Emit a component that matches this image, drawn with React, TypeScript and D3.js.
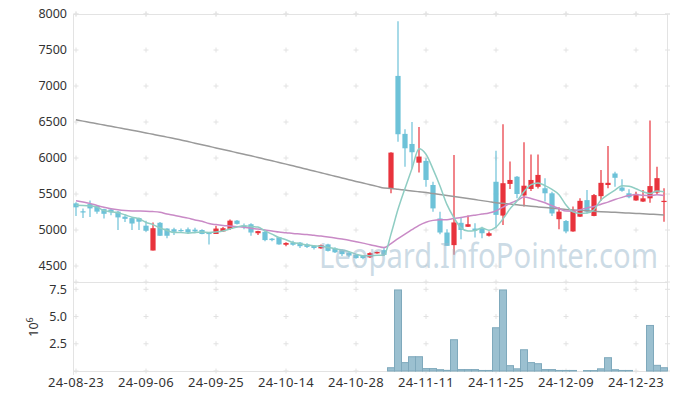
import React from "react";
import * as d3 from "d3";

const dates = [
  "24-08-23","24-08-26","24-08-27","24-08-28","24-08-29","24-08-30",
  "24-09-02","24-09-03","24-09-04","24-09-05","24-09-06",
  "24-09-09","24-09-10","24-09-11","24-09-12","24-09-13",
  "24-09-19","24-09-20","24-09-23","24-09-24","24-09-25","24-09-26","24-09-27","24-09-30",
  "24-10-02","24-10-04","24-10-07","24-10-08","24-10-10","24-10-11",
  "24-10-14","24-10-15","24-10-16","24-10-17","24-10-18",
  "24-10-21","24-10-22","24-10-23","24-10-24","24-10-25",
  "24-10-28","24-10-29","24-10-30","24-10-31","24-11-01",
  "24-11-04","24-11-05","24-11-06","24-11-07","24-11-08",
  "24-11-11","24-11-12","24-11-13","24-11-14","24-11-15",
  "24-11-18","24-11-19","24-11-20","24-11-21","24-11-22",
  "24-11-25","24-11-26","24-11-27","24-11-28","24-11-29",
  "24-12-02","24-12-03","24-12-04","24-12-05","24-12-06",
  "24-12-09","24-12-10","24-12-11","24-12-12","24-12-13",
  "24-12-16","24-12-17","24-12-18","24-12-19","24-12-20",
  "24-12-23","24-12-24","24-12-26","24-12-27","24-12-30",
];

const opens = [
  5370,5260,5360,5335,5290,5285,5255,5185,5165,5165,5060,4715,5100,5020,5010,5000,
  5010,5005,5000,4960,4945,4980,5015,5130,5060,5080,4955,4975,4880,4900,4795,4825,
  4825,4800,4780,4745,4800,4745,4720,4685,4655,4640,4620,4675,4720,5570,7140,6335,
  6195,5935,5960,5625,5160,4965,4790,5100,5045,5020,5020,4920,5670,5200,5640,5740,
  5480,5570,5600,5580,5510,5150,5125,4980,5185,5415,5195,5470,5625,5785,5590,5510,
  5410,5395,5440,5520,5390,
];
const highs = [
  5385,5300,5410,5345,5295,5290,5265,5205,5170,5175,5130,5105,5110,5025,5030,5020,
  5035,5030,5010,4965,5060,5040,5145,5140,5090,5095,4990,4985,4890,4905,4830,4850,
  4835,4815,4790,4800,4810,4760,4730,4700,4665,4650,4690,4700,4760,6080,7900,6400,
  6500,6430,5995,5670,5255,5010,6040,5175,5200,5095,5045,4980,6100,6470,5950,5750,
  6220,6050,6050,5720,5530,5315,5140,5325,5440,5555,5500,5835,6165,5810,5705,5565,
  5530,5555,6520,5880,5580,
];
const lows = [
  5195,5165,5180,5225,5160,5205,5000,5110,5000,5000,4975,4715,4915,4885,4930,4975,
  4945,4955,4940,4800,4945,4975,5000,5075,5010,4920,4930,4845,4845,4795,4775,4780,
  4750,4750,4730,4740,4700,4680,4640,4620,4600,4595,4610,4670,4640,5510,6225,5880,
  5855,5800,5600,5255,4940,4780,4655,4870,5040,4895,4885,4910,5025,5070,5570,5440,
  5325,5540,5575,5395,5195,5010,4955,4975,5180,5230,5190,5405,5580,5600,5530,5440,
  5405,5390,5380,5485,5115,
];
const closes = [
  5315,5250,5300,5255,5225,5245,5175,5155,5090,5115,4990,5025,4920,4920,4975,4990,
  4965,4980,4945,4955,5020,5025,5130,5085,5040,4965,4985,4860,4860,4800,4820,4795,
  4775,4765,4750,4790,4710,4690,4665,4645,4610,4610,4680,4695,4655,6075,6330,6135,
  6080,6020,5695,5300,4965,4780,5105,5000,5080,5000,4955,4955,5210,5650,5695,5500,
  5615,5695,5765,5510,5230,5255,4980,5280,5405,5255,5485,5655,5655,5725,5545,5455,
  5485,5440,5610,5720,5405,
];
// volume, in millions of shares
const volumes = [
  0,0,0,0,0,0,0,0,0,0,0,0,0,0,0,0,0,0,0,0,0,0,0,0,0,0,0,0,0,0,0,0,0,0,0,0,0,0,0,0,0,0,0,0,0,
  0.3,7.44,0.77,1.31,1.31,0.22,0.22,0.12,0.06,2.87,0.13,0.13,0.13,0.05,0.05,
  3.97,7.44,0.49,0.2,1.95,0.77,0.67,0.13,0.13,0.05,0.05,0.05,0,0.04,0.04,
  0.2,1.22,0.12,0.05,0.05,0,0,4.18,0.52,0.3,
];
// moving-average values before enough candles exist in view
const ma5Head = [5345, 5342, 5335, 5320];
const ma20Head = [5407,5390,5370,5340,5315,5295,5280,5270,5265,5264,5262,5256,5245,5222,5205,5185,5165,5140,5122];
// long moving average
const maLong = [
  6530,6512,6494,6476,6458,6440,6422,6404,6386,6367,6348,6329,6310,6290,6270,6250,
  6228,6206,6184,6162,6140,6118,6096,6074,6052,6030,6007,5984,5961,5938,5915,5891,
  5867,5843,5819,5795,5771,5747,5723,5699,5675,5652,5629,5606,5583,5578,5566,5554,
  5542,5531,5520,5506,5492,5478,5464,5450,5436,5422,5408,5394,5380,5370,5360,5350,
  5340,5330,5321,5312,5303,5294,5285,5279,5273,5267,5261,5255,5250,5245,5240,5235,
  5230,5225,5220,5215,5210,
];
const priceTicks = [4500, 5000, 5500, 6000, 6500, 7000, 7500, 8000];
const volTicks = [2.5, 5.0, 7.5];
const volTickLabels = ["2.5", "5.0", "7.5"];
const xTickIdx = [0, 10, 20, 30, 40, 50, 60, 70, 80];

function movingAvg(n: number, head: number[]) {
  return closes.map((_, i) => {
    if (i < n - 1) return head[i];
    const s = d3.sum(closes.slice(i - n + 1, i + 1));
    return s / n;
  });
}

const ma5 = movingAvg(5, ma5Head);
const ma20 = movingAvg(20, ma20Head);

const W = 677, H = 400;
const L = 73, R = 667, TOP = 14, SPLIT = 282, BOT = 371;
const FONT = "'Noto Sans', 'Open Sans', sans-serif";
const UP = "#e8333c", DOWN = "#6dc2d8";

export default function App() {
  const x = d3.scaleLinear().domain([0, 84]).range([76, 664]);
  const y = d3.scaleLinear().domain([4500, 8000]).range([266, 14]);
  const yv = d3.scaleLinear().domain([0, 7.5]).range([BOT, 289.3]);

  const line = (vals: number[]) =>
    d3.line<number>().x((_, i) => x(i)).y((v) => y(v)).curve(d3.curveMonotoneX)(vals) || "";

  const crossX = [...xTickIdx.map((i) => x(i))];
  const crossY = [...priceTicks.map((p) => y(p)), ...volTicks.map((v) => yv(v)), TOP, SPLIT, BOT];

  const cross = (cx: number, cy: number, k: string) => (
    <g key={k} stroke="#e2e2e2" strokeWidth={1}>
      <line x1={cx - 2.5} x2={cx + 2.5} y1={cy} y2={cy} />
      <line x1={cx} x2={cx} y1={cy - 2.5} y2={cy + 2.5} />
    </g>
  );

  return (
    <svg width={W} height={H} style={{ position: "absolute", left: 0, top: 0, background: "#fff" }}>
      <rect x={0} y={0} width={W} height={H} fill="#fff" />
      {/* frame */}
      <g stroke="#e3e3e3" strokeWidth={1} fill="none">
        <line x1={L} x2={R} y1={TOP + 0.5} y2={TOP + 0.5} />
        <line x1={L} x2={R} y1={SPLIT + 0.5} y2={SPLIT + 0.5} />
        <line x1={L} x2={R} y1={BOT + 0.5} y2={BOT + 0.5} />
        <line x1={L + 0.5} x2={L + 0.5} y1={TOP} y2={BOT + 4} />
        <line x1={R + 0.5} x2={R + 0.5} y1={TOP} y2={BOT} />
      </g>
      {/* grid crosses */}
      <g>
        {crossX.flatMap((cx, a) => crossY.map((cy, b) => cross(cx, cy, `c${a}-${b}`)))}
        {crossY.map((cy, b) => (
          <line key={`r${b}`} x1={R - 2} x2={R + 3} y1={cy} y2={cy} stroke="#e2e2e2" />
        ))}
      </g>
      {/* y labels */}
      <g fontFamily={FONT} fontSize={12.5} fill="#333" textAnchor="end">
        {priceTicks.map((p) => (
          <text key={p} x={67} y={y(p)} dy="0.35em">{p}</text>
        ))}
        {volTicks.map((v, k) => (
          <text key={v} x={67} y={yv(v)} dy="0.35em">{volTickLabels[k]}</text>
        ))}
      </g>
      <text transform="translate(37.5,327) rotate(-90)" fontFamily={FONT} fontSize={12.5} fill="#333" textAnchor="middle">
        10<tspan dy={-5} fontSize={9}>6</tspan>
      </text>
      {/* x labels */}
      <g fontFamily={FONT} fontSize={13} fill="#333" textAnchor="middle" letterSpacing={0.4}>
        {xTickIdx.map((i) => (
          <text key={i} x={x(i)} y={387}>{dates[i]}</text>
        ))}
      </g>
      {/* volume bars */}
      <g fill="#9bc0d0" stroke="#7fa9bc" strokeWidth={1}>
        {volumes.map((v, i) =>
          v > 0 ? (
            <rect key={i} x={x(i) - 3.5} y={yv(v)} width={7} height={Math.max(0.5, yv(0) - yv(v))} />
          ) : null
        )}
      </g>
      {/* candles */}
      <g>
        {closes.map((c, i) => {
          const o = opens[i];
          const up = c >= o;
          const col = up ? UP : DOWN;
          const top = y(Math.max(o, c));
          const bh = Math.max(1.2, Math.abs(y(o) - y(c)));
          return (
            <g key={i}>
              <line x1={x(i)} x2={x(i)} y1={y(highs[i])} y2={y(lows[i])} stroke={col} strokeWidth={1.2} />
              <rect x={x(i) - 2.6} y={top} width={5.2} height={bh} fill={col} />
            </g>
          );
        })}
      </g>
      {/* moving averages */}
      <g fill="none" strokeWidth={1.5}>
        <path d={line(maLong)} stroke="#9a9a9a" />
        <path d={line(ma20)} stroke="#c98ac6" />
        <path d={line(ma5)} stroke="#8fcdc3" />
      </g>
      {/* watermark */}
      <text x={319} y={268} fontFamily={FONT} fontSize={34} fill="#9ab8cc" fillOpacity={0.5}
        textLength={339} lengthAdjust="spacingAndGlyphs">Leopard.InfoPointer.com</text>
    </svg>
  );
}
